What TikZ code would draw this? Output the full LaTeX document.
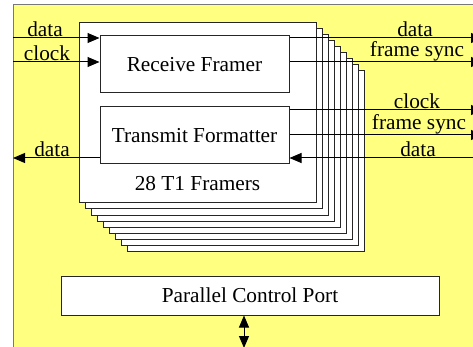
\documentclass[tikz,border=0pt]{standalone}
\usepackage{fontspec}
\setmainfont{Liberation Serif}
\usetikzlibrary{arrows.meta}
\definecolor{pad-yellow}{RGB}{255,255,128}
\definecolor{pad-edge}{RGB}{120,120,120}

\begin{document}
\begin{tikzpicture}[x=1pt, y=-1pt,
    every node/.append style={font=\fontsize{21.3}{25}\selectfont},
    box/.style={rectangle, draw=black!85, line width=1pt, fill=white, inner sep=0pt},
    sig/.style={line width=1pt},
    tip/.style={-{Triangle[length=12pt,width=10pt]}},
    tag/.style={anchor=south, inner sep=1pt}]
  \useasboundingbox (0,0) rectangle (473,347);
  \draw[draw=pad-edge, fill=pad-yellow, line width=1pt] (13,5) rectangle (490,360);

  % stack of framers, back to front
  \foreach \k in {8,7,...,1}
    \node[box, minimum width=237pt, minimum height=180pt] (fr\k) at (197.5+6*\k, 113+6*\k) {};
  \node[box, minimum width=237pt, minimum height=180pt] (fr) at (197.5,113) {};
  \node (frlbl) at (197.5,184) {28 T1 Framers};

  \node[box, minimum width=189pt, minimum height=57pt] (rx) at (194.5,64.5) {Receive Framer};
  \node[box, minimum width=189pt, minimum height=57pt] (tx) at (194.5,135.5) {Transmit Formatter};
  \node[box, minimum width=378pt, minimum height=39pt] (port) at (250,295.5) {Parallel Control Port};

  % signal ends
  \coordinate (rxdin) at (13,38);
  \coordinate (rxcin) at (13,62);
  \coordinate (rxdout) at (483,38);
  \coordinate (rxfout) at (483,62);
  \coordinate (txcout) at (483,110);
  \coordinate (txfout) at (483,135);
  \coordinate (txdin) at (473,158);
  \coordinate (txdout) at (13,158);
  \coordinate (bus) at (244,348);

  \draw[sig, tip] (rxdin) -- (rxdin -| rx.west);
  \draw[sig, tip] (rxcin) -- (rxcin -| rx.west);
  \draw[sig, tip] (rx.east |- rxdout) -- (rxdout);
  \draw[sig, tip] (rx.east |- rxfout) -- (rxfout);
  \draw[sig, tip] (tx.east |- txcout) -- (txcout);
  \draw[sig, tip] (tx.east |- txfout) -- (txfout);
  \draw[sig, tip] (txdin) -- (txdin -| tx.east);
  \draw[sig, tip] (tx.west |- txdout) -- (txdout);
  \draw[sig, {Triangle[length=12pt,width=10pt]}-{Triangle[length=12pt,width=10pt]}] (bus |- port.south) -- (bus);

  % labels
  \node[tag] (lrxd) at (45,38) {data};
  \node[tag] (lrxc) at (47,62) {clock};
  \node[tag] (ltxd) at (52,158) {data};
  \node[tag] (lrxdo) at (415,38) {data};
  \node[tag] (lrxfo) at (417,62) {frame sync};
  \node[tag] (ltxco) at (417,110) {clock};
  \node[tag] (ltxfo) at (419,135) {frame sync};
  \node[tag] (ltxdi) at (418,158) {data};
\end{tikzpicture}
\end{document}
